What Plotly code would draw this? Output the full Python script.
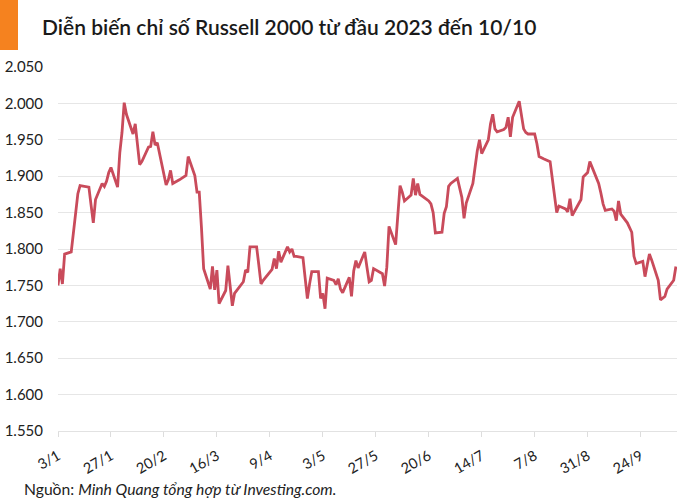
import plotly.graph_objects as go

# ---- data ----
jan_days = [3, 4, 5, 6, 9, 10, 11, 12, 13, 17, 18, 19, 20, 23, 24, 25, 26, 27, 30, 31]
jan_vals = [1750, 1773, 1752, 1793, 1796, 1820, 1848, 1876, 1887, 1885, 1860, 1836, 1868, 1890, 1886, 1893, 1905, 1912, 1885, 1932]

feb_days = [1, 2, 3, 6, 7, 8, 9, 10, 13, 14, 15, 16, 17, 21, 22, 23, 24, 27, 28]
feb_vals = [1960, 2001, 1985, 1958, 1972, 1945, 1916, 1920, 1940, 1941, 1961, 1943, 1946, 1888, 1895, 1908, 1890, 1895, 1897]

mar_days = [1, 2, 3, 6, 7, 8, 9, 10, 13, 14, 15, 16, 17, 20, 21, 22, 23, 24, 27, 28, 29, 30, 31]
mar_vals = [1899, 1901, 1927, 1901, 1878, 1878, 1830, 1773, 1745, 1776, 1744, 1771, 1725, 1743, 1777, 1745, 1722, 1739, 1751, 1755, 1771, 1768, 1803]

apr_days = [3, 4, 5, 6, 10, 11, 12, 13, 14, 17, 18, 19, 20, 21, 24, 25, 26, 27, 28]
apr_vals = [1803, 1778, 1752, 1757, 1772, 1787, 1773, 1797, 1782, 1803, 1796, 1800, 1790, 1790, 1788, 1760, 1732, 1752, 1769]

may_days = [1, 2, 3, 4, 5, 8, 9, 10, 11, 12, 15, 16, 17, 18, 19, 22, 23, 24, 25, 26, 30, 31]
may_vals = [1769, 1732, 1739, 1718, 1760, 1757, 1751, 1759, 1745, 1740, 1761, 1735, 1770, 1784, 1774, 1796, 1775, 1755, 1757, 1773, 1766, 1749]

jun_days = [1, 2, 5, 6, 7, 8, 9, 12, 13, 14, 15, 16, 20, 21, 22, 23, 26, 27, 28, 29, 30]
jun_vals = [1775, 1831, 1806, 1850, 1887, 1878, 1866, 1874, 1897, 1874, 1890, 1875, 1866, 1862, 1850, 1822, 1823, 1849, 1858, 1886, 1890]

jul_days = [3, 5, 6, 7, 10, 11, 12, 13, 14, 17, 18, 19, 20, 21, 24, 25, 26, 27, 28, 31]
jul_vals = [1897, 1871, 1842, 1863, 1890, 1915, 1935, 1950, 1931, 1950, 1972, 1985, 1965, 1961, 1964, 1967, 1981, 1954, 1981, 2003]

aug_days = [1, 2, 3, 4, 7, 8, 9, 10, 11, 14, 15, 16, 17, 18, 21, 22, 23, 24, 25, 28, 29, 30, 31]
aug_vals = [1985, 1965, 1960, 1958, 1958, 1945, 1927, 1925, 1924, 1920, 1895, 1870, 1850, 1859, 1855, 1851, 1869, 1846, 1852, 1868, 1899, 1902, 1905]

sep_days = [1, 5, 6, 7, 8, 11, 12, 13, 14, 15, 18, 19, 20, 21, 22, 25, 26, 27, 28, 29]
sep_vals = [1920, 1890, 1877, 1862, 1853, 1855, 1852, 1839, 1866, 1848, 1836, 1830, 1823, 1790, 1780, 1783, 1762, 1778, 1793, 1785]

oct_days = [2, 3, 4, 5, 6, 9, 10]
oct_vals = [1757, 1730, 1732, 1735, 1745, 1757, 1776]

tick_dates = ["2023-01-03", "2023-01-27", "2023-02-20", "2023-03-16", "2023-04-09", "2023-05-03",
              "2023-05-27", "2023-06-20", "2023-07-14", "2023-08-07", "2023-08-31", "2023-09-24"]
tick_labels = ["3/1", "27/1", "20/2", "16/3", "9/4", "3/5", "27/5", "20/6", "14/7", "7/8", "31/8", "24/9"]

y_ticks = [1550, 1600, 1650, 1700, 1750, 1800, 1850, 1900, 1950, 2000, 2050]
y_labels = ["1.550", "1.600", "1.650", "1.700", "1.750", "1.800", "1.850", "1.900", "1.950", "2.000", "2.050"]

title_text = "Diễn biến chỉ số Russell 2000 từ đầu 2023 đến 10/10"
source_text = "Nguồn: <i>Minh Quang tổng hợp từ Investing.com.</i>"

# ---- build series ----
months = [(1, jan_days, jan_vals), (2, feb_days, feb_vals), (3, mar_days, mar_vals),
          (4, apr_days, apr_vals), (5, may_days, may_vals), (6, jun_days, jun_vals),
          (7, jul_days, jul_vals), (8, aug_days, aug_vals), (9, sep_days, sep_vals),
          (10, oct_days, oct_vals)]
dates, values = [], []
for m, ds, vs in months:
    for d, v in zip(ds, vs):
        dates.append(f"2023-{m:02d}-{d:02d}")
        values.append(v)

FONT = "Lato"
PW, PH = 619, 364  # plot area size in px

fig = go.Figure()
fig.add_trace(go.Scatter(
    x=dates, y=values, mode="lines",
    line=dict(color="#C94B5B", width=2.8),
    hoverinfo="skip", showlegend=False,
))

fig.update_layout(
    width=700, height=501,
    margin=dict(l=58, r=23, t=67, b=70, autoexpand=False),
    paper_bgcolor="white", plot_bgcolor="white",
    font=dict(family=FONT, color="#222222"),
    xaxis=dict(
        type="date", automargin=False,
        range=["2023-01-03", "2023-10-10 12:00"],
        tickvals=tick_dates, ticktext=tick_labels,
        tickangle=-30,
        tickfont=dict(family=FONT, size=14.5, color="#222222"),
        ticks="outside", ticklen=5, tickcolor="#DDDDDD", tickwidth=1,
        ticklabelstandoff=5,
        showgrid=False, zeroline=False,
        showline=True, linecolor="#E2E2E2", linewidth=1,
    ),
    yaxis=dict(
        range=[1550, 2050], automargin=False,
        tickvals=y_ticks, ticktext=y_labels,
        tickfont=dict(family=FONT, size=15, color="#222222"),
        showgrid=True, gridcolor="#E6E6E6", gridwidth=1,
        zeroline=False, showline=False, ticks="",
        ticklabelstandoff=14,
    ),
    shapes=[dict(type="rect", xref="paper", yref="paper",
                 x0=-58 / PW, x1=(-58 + 18) / PW,
                 y0=1 + 17 / PH, y1=1 + 67 / PH,
                 fillcolor="#F5821F", line=dict(width=0), layer="above")],
    annotations=[
        dict(text=title_text, xref="paper", yref="paper",
             x=(40 - 58) / PW, y=1 + (67 - 27) / PH,
             xanchor="left", yanchor="middle", showarrow=False,
             font=dict(family=FONT, size=21, color="#1A1A1A", weight=600)),
        dict(text=source_text, xref="paper", yref="paper",
             x=(22 - 58) / PW, y=-(489 - 431) / PH,
             xanchor="left", yanchor="middle", showarrow=False,
             font=dict(family=FONT, size=15.7, color="#222222")),
    ],
)

fig.write_html("out.html", config={"displayModeBar": False},
               post_script="document.body.style.margin='0';document.body.style.padding='0';")
